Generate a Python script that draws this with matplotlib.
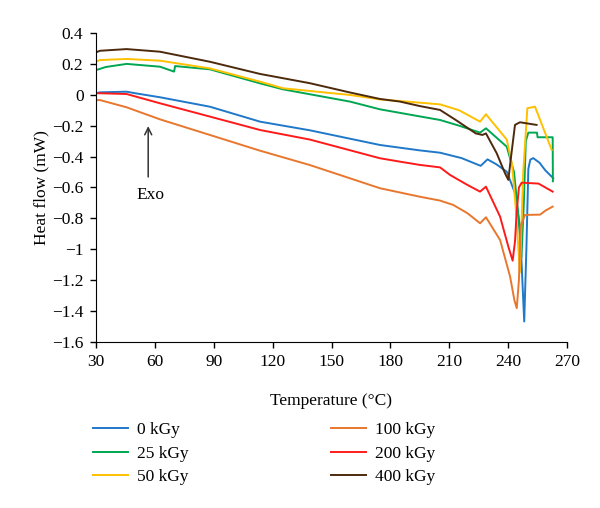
import matplotlib
matplotlib.use('Agg')
import matplotlib.pyplot as plt
from matplotlib.ticker import FuncFormatter

# temperature (C) / heat flow (mW)
t_0 = [30, 32, 45.6, 50, 62.6, 88, 113.6, 139, 174.7, 195, 205.3, 216.3, 226, 229.5, 234,
       239.3, 243.5, 246, 248.2, 249.3, 250.3, 251.3, 252.8, 256, 259, 263]
hf_0 = [0.01, 0.016, 0.02, 0.01, -0.016, -0.077, -0.174, -0.23, -0.325, -0.36, -0.375, -0.41,
        -0.46, -0.418, -0.45, -0.498, -0.636, -0.85, -1.468, -1.0, -0.48, -0.42, -0.41, -0.44,
        -0.49, -0.54]

t_25 = [30, 35, 45.6, 62.6, 69.8, 70.3, 88, 113.6, 125.4, 159.4, 174.7, 195, 205.3, 215,
        225.7, 228.7, 239.3, 243, 245, 246.8, 248, 249, 250.3, 254.7, 255, 262.7, 262.8]
hf_25 = [0.16, 0.18, 0.2, 0.182, 0.15, 0.186, 0.165, 0.074, 0.035, -0.044, -0.094, -0.14,
         -0.163, -0.2, -0.245, -0.217, -0.336, -0.5, -0.75, -1.05, -0.7, -0.3, -0.245, -0.245,
         -0.275, -0.275, -0.56]

t_50 = [30, 32, 45.6, 62.6, 88, 113.6, 125.4, 159.4, 174.7, 195, 205.3, 215, 225.7, 228.7,
        239.3, 242, 244, 246, 247.7, 249.8, 253.7, 262.2]
hf_50 = [0.215, 0.225, 0.232, 0.221, 0.171, 0.085, 0.042, -0.001, -0.03, -0.051, -0.062, -0.1,
         -0.174, -0.126, -0.29, -0.45, -0.75, -1.15, -0.5, -0.087, -0.077, -0.357]

t_100 = [30, 32, 45.6, 62.6, 88, 113.6, 139, 174.7, 195, 205.3, 212, 219.3, 225.7, 228.7,
         235.9, 241, 243.2, 244.4, 245.5, 246.4, 248.6, 256.3, 259, 262.7]
hf_100 = [-0.035, -0.034, -0.081, -0.159, -0.26, -0.362, -0.455, -0.605, -0.66, -0.685, -0.713,
          -0.767, -0.832, -0.793, -0.94, -1.177, -1.33, -1.382, -1.2, -0.85, -0.778, -0.776,
          -0.75, -0.724]

t_200 = [30, 32, 45.6, 62.6, 88, 113.6, 139, 174.7, 184.9, 195, 205.3, 210.4, 219.3, 225.7,
         228.7, 235.9, 240.1, 242.3, 243.5, 244.4, 245.5, 246.9, 255.5, 262.7]
hf_200 = [0.01, 0.01, 0.005, -0.055, -0.141, -0.228, -0.29, -0.411, -0.433, -0.454, -0.47,
          -0.519, -0.584, -0.627, -0.595, -0.789, -0.983, -1.074, -0.95, -0.75, -0.6, -0.569,
          -0.575, -0.627]

t_400 = [30, 32, 45.6, 62.6, 88, 113.6, 139, 159.4, 174.7, 184.9, 195, 205.3, 213.3, 223.5,
         226.9, 228.7, 234.2, 238.4, 240.1, 241.5, 243.5, 246, 254.5]
hf_400 = [0.275, 0.285, 0.296, 0.279, 0.214, 0.135, 0.075, 0.015, -0.027, -0.044, -0.073,
          -0.098, -0.163, -0.25, -0.26, -0.25, -0.379, -0.508, -0.551, -0.4, -0.195, -0.178,
          -0.195]

x_ticks = [30, 60, 90, 120, 150, 180, 210, 240, 270]
y_ticks = [0.4, 0.2, 0, -0.2, -0.4, -0.6, -0.8, -1, -1.2, -1.4, -1.6]

plt.rcParams['font.family'] = ['Liberation Serif', 'DejaVu Serif']
plt.rcParams['font.size'] = 12.5

fig = plt.figure(figsize=(6, 5.08), dpi=100)
ax = fig.add_axes([0.16, 0.327, 0.785, 0.608])

left_series = [
    (t_0, hf_0, '0 kGy', '#1f78c8'),
    (t_25, hf_25, '25 kGy', '#00a651'),
    (t_50, hf_50, '50 kGy', '#ffc000'),
]
right_series = [
    (t_100, hf_100, '100 kGy', '#e8772e'),
    (t_200, hf_200, '200 kGy', '#ff1a1a'),
    (t_400, hf_400, '400 kGy', '#4d2a0c'),
]

lines = {}
for t, hf, name, col in left_series + right_series:
    lines[name], = ax.plot(t, hf, color=col, lw=1.4, label=name)

ax.set_xlim(30, 270)
ax.set_ylim(-1.6, 0.4)
ax.set_xticks(x_ticks)
ax.set_yticks(y_ticks)
ax.yaxis.set_major_formatter(FuncFormatter(lambda v, p: f'{v:g}'.replace('-', '\u2212')))
ax.spines[['top', 'right']].set_visible(False)
ax.tick_params(direction='out', length=4, width=1, colors='black', pad=5)
ax.set_xlabel('Temperature (\u00b0C)', labelpad=16)
ax.set_ylabel('Heat flow (mW)', labelpad=2)

ax.annotate('', xy=(56.6, -0.185), xytext=(56.6, -0.55),
            arrowprops=dict(arrowstyle='->', color='#333333', lw=1.1))
ax.text(57.5, -0.65, 'Exo', ha='center', va='center')

leg_kw = dict(frameon=False, loc='upper left', borderpad=0, borderaxespad=0,
              handlelength=2.0, handletextpad=0.55, labelspacing=0.42)
fig.legend([lines[s[2]] for s in left_series], [s[2] for s in left_series],
           bbox_to_anchor=(93 / 600, 1 - 422 / 508), **leg_kw)
fig.legend([lines[s[2]] for s in right_series], [s[2] for s in right_series],
           bbox_to_anchor=(331 / 600, 1 - 422 / 508), **leg_kw)

fig.savefig('out.png', dpi=100)
